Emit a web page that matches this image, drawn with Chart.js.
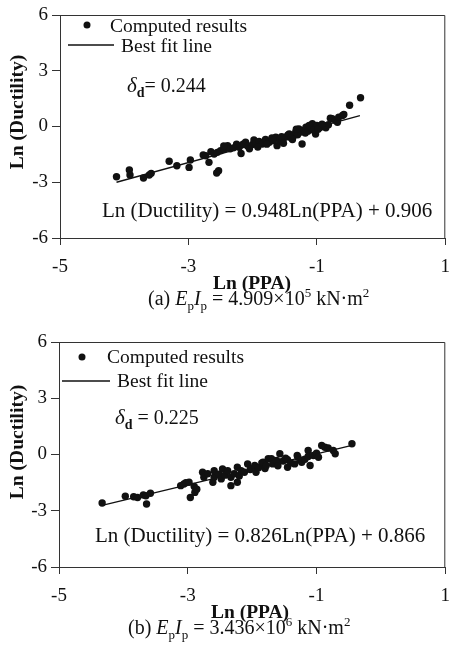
<!DOCTYPE html>
<html>
<head>
<meta charset="utf-8">
<script src="https://cdn.jsdelivr.net/npm/chart.js@4/dist/chart.umd.min.js"></script>
<style>
  html,body{margin:0;padding:0;background:#fff;}
  body{width:449px;height:664px;position:relative;overflow:hidden;}
  .wrap{position:absolute;left:0;width:449px;height:332px;}
  canvas{display:block;}
</style>
</head>
<body>
<div class="wrap" style="top:0"><canvas id="c1" width="449" height="332"></canvas></div>
<div class="wrap" style="top:332px"><canvas id="c2" width="449" height="332"></canvas></div>
<script>
// ---------- data ----------
const xTicks = [-5, -3, -1, 1];
const yTicks = [-6, -3, 0, 3, 6];

// Panel (a): Ln(PPA), Ln(Ductility)
const aLnPPA = [-4.12,-3.92,-3.91,-3.70,-3.61,-3.58,-3.30,-3.18,-2.97,-2.99,-2.77,-2.68,-2.73,-2.65,-2.60,-2.55,-2.50,-2.53,-2.56,-2.44,-2.39,-2.35,-2.30,-2.21,-2.15,-2.11,-2.18,-2.08,-2.00,-1.98,-1.95,-1.90,-1.85,-1.80,-1.74,-1.70,-1.64,-1.62,-1.58,-1.54,-1.49,-1.45,-1.43,-1.40,-1.36,-1.33,-1.30,-1.28,-1.25,-1.23,-1.20,-1.17,-1.14,-1.10,-1.07,-1.02,-1.00,-0.95,-0.89,-0.86,-0.82,-0.79,-0.76,-0.71,-0.68,-0.66,-0.60,-0.58,-0.49,-0.32,-2.45,-2.25,-2.05,-1.92,-1.78,-1.68,-1.55,-1.52,-1.38,-1.32,-1.18,-1.12,-1.05,-0.98,-0.92];
const aLnDuct = [-2.70,-2.34,-2.61,-2.77,-2.61,-2.52,-1.87,-2.11,-1.80,-2.20,-1.53,-1.93,-1.57,-1.35,-1.48,-1.39,-1.30,-2.38,-2.50,-1.21,-1.03,-1.20,-1.15,-1.12,-0.95,-0.85,-1.45,-1.05,-0.97,-0.72,-0.90,-0.80,-0.94,-0.70,-0.85,-0.62,-0.58,-1.03,-0.75,-0.76,-0.58,-0.45,-0.40,-0.62,-0.50,-0.31,-0.45,-0.13,-0.30,-0.94,-0.20,-0.04,-0.25,-0.10,0.15,-0.40,0.05,-0.05,0.05,-0.07,0.10,0.45,0.42,0.32,0.23,0.50,0.59,0.65,1.14,1.55,-1.05,-0.95,-1.20,-1.10,-0.95,-0.75,-0.55,-0.90,-0.70,-0.15,-0.35,0.05,-0.20,-0.15,0.12];
const aFitX = [-4.12, -0.33];
const aFitY = [-3.00, 0.59];

// Panel (b)
const bLnPPA = [-4.33,-3.97,-3.84,-3.78,-3.69,-3.65,-3.58,-3.64,-3.11,-3.06,-3.03,-2.98,-2.90,-2.96,-2.89,-2.86,-2.77,-2.75,-2.69,-2.61,-2.59,-2.59,-2.52,-2.48,-2.46,-2.42,-2.38,-2.33,-2.33,-2.28,-2.23,-2.23,-2.20,-2.17,-2.12,-2.07,-2.03,-1.96,-1.94,-1.90,-1.85,-1.83,-1.80,-1.78,-1.75,-1.70,-1.68,-1.62,-1.60,-1.57,-1.52,-1.48,-1.45,-1.45,-1.40,-1.34,-1.30,-1.29,-1.25,-1.23,-1.18,-1.13,-1.13,-1.10,-1.05,-1.00,-0.97,-0.92,-0.87,-0.82,-0.74,-0.71,-0.45];
const bLnDuct = [-2.59,-2.23,-2.25,-2.29,-2.16,-2.20,-2.07,-2.64,-1.66,-1.57,-1.50,-1.48,-1.71,-2.29,-2.02,-1.85,-0.95,-1.21,-1.03,-1.48,-1.21,-0.86,-1.05,-1.30,-0.77,-1.10,-0.86,-1.21,-1.66,-1.03,-0.68,-1.48,-1.15,-0.86,-0.95,-0.50,-0.80,-0.59,-0.95,-0.70,-0.45,-0.41,-0.75,-0.59,-0.23,-0.23,-0.50,-0.32,-0.60,0.04,-0.35,-0.20,-0.28,-0.68,-0.45,-0.50,-0.05,-0.14,-0.30,-0.41,-0.25,0.21,-0.11,-0.59,-0.05,0.07,-0.15,0.48,0.39,0.35,0.21,0.04,0.57];
const bFitX = [-4.33, -0.45];
const bFitY = [-2.71, 0.49];

// ---------- helpers ----------
const SERIF = '"Liberation Serif","Times New Roman",serif';
const INK = '#111';
const AXIS = '#333';

function pts(xs, ys){ return xs.map((x,i)=>({x:x, y:ys[i]})); }

function drawRich(ctx, x, y, segs){
  ctx.textAlign = 'left';
  ctx.textBaseline = 'alphabetic';
  for (const s of segs){
    ctx.font = s.font;
    ctx.fillText(s.t, x, y + (s.dy||0));
    x += ctx.measureText(s.t).width + (s.sp||0);
  }
}

function annotPlugin(cfg){
  return {
    id: 'annot',
    afterDraw(chart){
      const ctx = chart.ctx;
      const a = chart.chartArea;
      ctx.save();
      // frame top + right
      ctx.strokeStyle = AXIS; ctx.lineWidth = 1;
      ctx.beginPath();
      ctx.moveTo(a.left, a.top + 0.5); ctx.lineTo(a.right - 0.5, a.top + 0.5);
      ctx.lineTo(a.right - 0.5, a.bottom);
      ctx.stroke();
      ctx.fillStyle = INK;
      // legend
      ctx.beginPath(); ctx.arc(cfg.mk[0], cfg.mk[1], 3.5, 0, Math.PI*2); ctx.fill();
      ctx.font = '19.5px ' + SERIF; ctx.textAlign = 'left'; ctx.textBaseline = 'alphabetic';
      ctx.fillText('Computed results', cfg.t1[0], cfg.t1[1]);
      ctx.strokeStyle = INK; ctx.lineWidth = 1.3;
      ctx.beginPath(); ctx.moveTo(cfg.ln[0], cfg.ln[2]); ctx.lineTo(cfg.ln[1], cfg.ln[2]); ctx.stroke();
      ctx.fillText('Best fit line', cfg.t2[0], cfg.t2[1]);
      // delta
      drawRich(ctx, cfg.dl[0], cfg.dl[1], [
        {t:'δ', font:'italic 21px ' + SERIF},
        {t:'d', font:'bold 14px ' + SERIF, dy:5},
        {t:cfg.dtext, font:'20px ' + SERIF}
      ]);
      // equation
      ctx.font = '21px ' + SERIF;
      ctx.fillText(cfg.eq, cfg.eqp[0], cfg.eqp[1]);
      // axis titles
      ctx.font = 'bold 19.5px ' + SERIF; ctx.textAlign = 'center';
      ctx.fillText('Ln (PPA)', cfg.xt[0], cfg.xt[1]);
      ctx.save();
      ctx.translate(cfg.yt[0], cfg.yt[1]); ctx.rotate(-Math.PI/2);
      ctx.textBaseline = 'middle';
      ctx.fillText('Ln (Ductility)', 0, 0);
      ctx.restore();
      // caption
      drawRich(ctx, cfg.cap[0], cfg.cap[1], [
        {t:cfg.capLabel + ' ', font:'20px ' + SERIF},
        {t:'E', font:'italic 20px ' + SERIF},
        {t:'p', font:'13px ' + SERIF, dy:5},
        {t:'I', font:'italic 20px ' + SERIF},
        {t:'p', font:'13px ' + SERIF, dy:5},
        {t:' = ' + cfg.capVal + '×10', font:'20px ' + SERIF},
        {t:cfg.capExp, font:'13px ' + SERIF, dy:-8},
        {t:' kN·m', font:'20px ' + SERIF},
        {t:'2', font:'13px ' + SERIF, dy:-8}
      ]);
      ctx.restore();
    }
  };
}

function makeChart(id, px, py, fx, fy, geo, ann){
  new Chart(document.getElementById(id), {
    type: 'scatter',
    data: {
      datasets: [
        { type:'scatter', data: pts(px, py), pointRadius: 3.7, pointHoverRadius: 3.7,
          backgroundColor: INK, borderWidth: 0 },
        { type:'line', data: pts(fx, fy), showLine: true, pointRadius: 0,
          borderColor: INK, borderWidth: 1.3, fill: false, tension: 0 }
      ]
    },
    options: {
      responsive: false, animation: false, devicePixelRatio: 1,
      layout: { padding: { top: geo.top, right: geo.right, left: 0, bottom: 0 } },
      plugins: { legend: { display: false }, tooltip: { enabled: false } },
      scales: {
        x: {
          type: 'linear', min: -5, max: 1,
          afterBuildTicks: s => { s.ticks = xTicks.map(v => ({value: v})); },
          ticks: { font: { family: SERIF, size: 19 }, color: INK, padding: 11, maxRotation: 0 },
          grid: { display: true, drawOnChartArea: false, drawTicks: true, tickLength: 7, tickColor: AXIS, tickWidth: 1 },
          border: { display: true, color: AXIS, width: 1 },
          title: { display: false },
          afterFit: s => { s.height = geo.xh; s.paddingLeft = 0; s.paddingRight = 0; }
        },
        y: {
          type: 'linear', min: -6, max: 6,
          afterBuildTicks: s => { s.ticks = yTicks.map(v => ({value: v})); },
          ticks: { font: { family: SERIF, size: 19 }, color: INK, padding: 4 },
          grid: { display: true, drawOnChartArea: false, drawTicks: true, tickLength: 8, tickColor: AXIS, tickWidth: 1 },
          border: { display: true, color: AXIS, width: 1 },
          title: { display: false },
          afterFit: s => { s.width = geo.yw; s.paddingTop = 0; s.paddingBottom = 0; }
        }
      }
    },
    plugins: [annotPlugin(ann)]
  });
}

makeChart('c1', aLnPPA, aLnDuct, aFitX, aFitY,
  { top: 15, right: 1.5, xh: 94, yw: 60 },
  { mk:[87,25], t1:[110,32], ln:[68,114,45], t2:[121,52],
    dl:[127,92], dtext:'= 0.244', eq:'Ln (Ductility) = 0.948Ln(PPA) + 0.906', eqp:[102,217],
    xt:[252,289], yt:[18,112], cap:[148,305], capLabel:'(a)', capVal:'4.909', capExp:'5' });

makeChart('c2', bLnPPA, bLnDuct, bFitX, bFitY,
  { top: 10, right: 2, xh: 97, yw: 59 },
  { mk:[82,25], t1:[107,31], ln:[62,110,49], t2:[117,55],
    dl:[115,92], dtext:' = 0.225', eq:'Ln (Ductility) = 0.826Ln(PPA) + 0.866', eqp:[95,210],
    xt:[250,286], yt:[18,110], cap:[128,302], capLabel:'(b)', capVal:'3.436', capExp:'6' });
</script>
</body>
</html>
